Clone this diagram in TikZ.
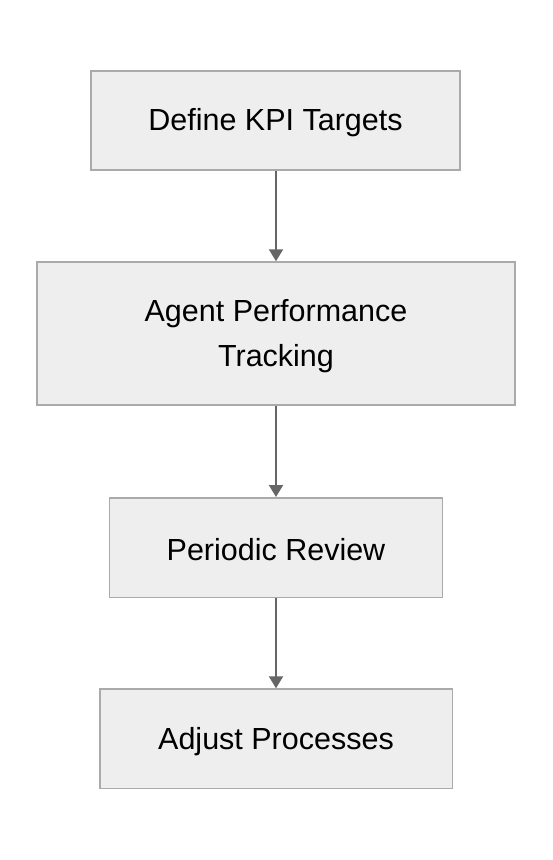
\documentclass[tikz,border=0pt]{standalone}
\usepackage{fontspec}
\setmainfont{Liberation Sans}
\usetikzlibrary{arrows.meta}
\definecolor{boxfill}{HTML}{EEEEEE}
\definecolor{boxline}{HTML}{AAAAAA}
\definecolor{arrowcol}{HTML}{666666}
\tikzset{
  stepbox/.style={draw=boxline, fill=boxfill, line width=1.5pt, rectangle, inner sep=0pt},
  steptext/.style={align=center, font=\fontsize{30.5}{45}\selectfont, text=black, inner sep=0pt},
  flowarrow/.style={draw=arrowcol, line width=2pt, -{Triangle[width=14pt,length=12pt]}}
}
\begin{document}
\begin{tikzpicture}[x=1pt,y=-1pt]
\useasboundingbox (0,0) rectangle (552,860);
\node[stepbox, minimum width=369pt, minimum height=99pt] (a) at (275.5,120.5) {};
\node[stepbox, minimum width=478pt, minimum height=143pt] (b) at (276,333.5) {};
\node[stepbox, minimum width=333pt, minimum height=99.5pt] (c) at (276,547.5) {};
\node[stepbox, minimum width=352.5pt, minimum height=99.5pt] (d) at (276,738.8) {};
\node[steptext] (ta) at ([yshift=-2.5pt]a.center) {Define KPI Targets};
\node[steptext] (tb) at ([yshift=-2.5pt]b.center) {Agent Performance\\Tracking};
\node[steptext] (tc) at ([yshift=-2.5pt]c.center) {Periodic Review};
\node[steptext] (td) at ([yshift=-2.5pt]d.center) {Adjust Processes};
\draw[flowarrow] (a.south -| 276,0) -- (b.north -| 276,0);
\draw[flowarrow] (b.south) -- (c.north);
\draw[flowarrow] (c.south) -- (d.north);
\end{tikzpicture}
\end{document}
